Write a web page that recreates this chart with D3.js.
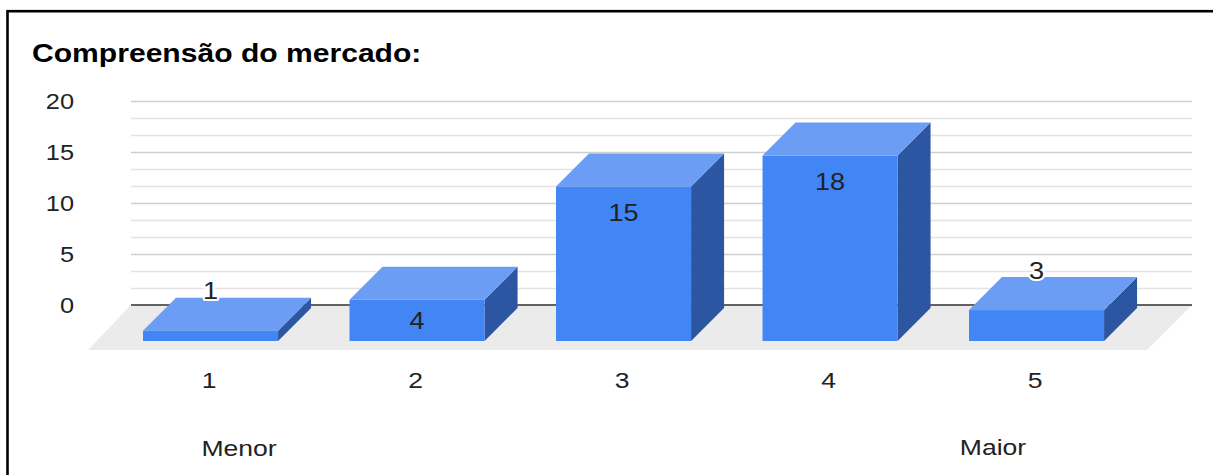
<!DOCTYPE html>
<html><head><meta charset="utf-8">
<script src="https://cdn.jsdelivr.net/npm/d3@7"></script>
<style>html,body{margin:0;padding:0;background:#fff;overflow:hidden}</style>
</head><body>
<svg id="chart" width="1213" height="475"></svg>
<script>
const title = "Compreensão do mercado:";
const categories = ["1", "2", "3", "4", "5"];
const values = [1, 4, 15, 18, 3];
const yTicks = [0, 5, 10, 15, 20];
const endLabels = ["Menor", "Maior"];

const W = 1213, H = 475;
const svg = d3.select("#chart");
const FONT = "'Liberation Sans', Arial, sans-serif";
const SX = 1.18; // horizontal text stretch

function stretchText(g, x, y, txt, opts) {
  const t = g.append("text")
    .attr("transform", `translate(${x},${y}) scale(${SX},1)`)
    .attr("font-family", FONT)
    .attr("font-size", opts.size)
    .attr("font-weight", opts.weight || "normal")
    .attr("fill", opts.fill || "#222")
    .attr("text-anchor", opts.anchor || "start")
    .text(txt);
  return t;
}

// frame
svg.append("rect").attr("x", 7.5).attr("y", 11.2).attr("width", W + 20).attr("height", H + 20)
  .attr("fill", "none").attr("stroke", "#000").attr("stroke-width", 2.6);

// title
stretchText(svg, 32, 62, title, {size: 25.5, weight: "bold", fill: "#000"});

// back plane scale (gridlines)
const gridX0 = 131, gridX1 = 1192;
const y = d3.scaleLinear().domain([0, 20]).range([305, 101]);
const minorTicks = d3.range(0, 20.001, 5 / 3);

const grid = svg.append("g");
grid.selectAll("line.minor").data(minorTicks).join("line")
  .attr("x1", gridX0).attr("x2", gridX1)
  .attr("y1", d => Math.round(y(d)) + 0.5).attr("y2", d => Math.round(y(d)) + 0.5)
  .attr("stroke", d => (Math.abs(d % 5) < 1e-6 || Math.abs(d % 5 - 5) < 1e-6) ? "#cfcfcf" : "#e3e3e3")
  .attr("stroke-width", 1.6);

// y tick labels
yTicks.forEach(t => {
  stretchText(svg, 74, y(t) + 7.8, String(t), {size: 21.5, anchor: "end", fill: "#222"});
});

// floor
const depthFloor = 45;
svg.append("path")
  .attr("d", `M${gridX0},${y(0)} L${gridX1},${y(0)} L${gridX1 - depthFloor},${y(0) + depthFloor} L${gridX0 - depthFloor + 2},${y(0) + depthFloor} Z`)
  .attr("fill", "#ebebeb");
// zero line
svg.append("line").attr("x1", gridX0).attr("x2", gridX1)
  .attr("y1", y(0)).attr("y2", y(0)).attr("stroke", "#333").attr("stroke-width", 1.6);

// bars
const x = d3.scaleBand().domain(categories).range([107.3, 1139.8])
  .paddingInner(0.346).paddingOuter(0.173);
const yb = d3.scaleLinear().domain([0, 20]).range([341, 341 - 206]);
const dd = 33; // bar depth offset

const bars = svg.append("g");
categories.forEach((c, i) => {
  const v = values[i];
  const x0 = x(c), x1 = x(c) + x.bandwidth();
  const yt = yb(v), y0 = yb(0);
  const g = bars.append("g");
  // side
  g.append("path").attr("d", `M${x1},${y0} L${x1 + dd},${y0 - dd} L${x1 + dd},${yt - dd} L${x1},${yt} Z`)
    .attr("fill", "#2c56a2");
  // top
  g.append("path").attr("d", `M${x0},${yt} L${x0 + dd},${yt - dd} L${x1 + dd},${yt - dd} L${x1},${yt} Z`)
    .attr("fill", "#6a9df3");
  // front
  g.append("rect").attr("x", x0).attr("y", yt).attr("width", x.bandwidth()).attr("height", y0 - yt)
    .attr("fill", "#4285f4");
});

// data labels
categories.forEach((c, i) => {
  const v = values[i];
  const cx = x(c) + x.bandwidth() / 2;
  const yt = yb(v), y0 = yb(0);
  let ly, halo = false;
  if (y0 - yt >= 35) {
    ly = Math.min(yt + 26, (yt + y0) / 2);
  } else {
    ly = yt - dd - 7; halo = true;
  }
  if (halo) {
    stretchText(svg, cx, ly + 8.5, String(v), {size: 23, anchor: "middle", fill: "#fff"})
      .attr("stroke", "#fff").attr("stroke-width", 4).attr("stroke-linejoin", "round");
  }
  stretchText(svg, cx, ly + 8.5, String(v), {size: 23, anchor: "middle", fill: "#222"});
});

// x axis labels
categories.forEach(c => {
  stretchText(svg, x(c) + x.bandwidth() / 2 - 1.5, 387.5, c, {size: 22.5, anchor: "middle", fill: "#222"});
});
stretchText(svg, 239, 456, endLabels[0], {size: 22.5, anchor: "middle", fill: "#222"});
stretchText(svg, 993, 455, endLabels[1], {size: 22.5, anchor: "middle", fill: "#222"});
</script>
</body></html>
